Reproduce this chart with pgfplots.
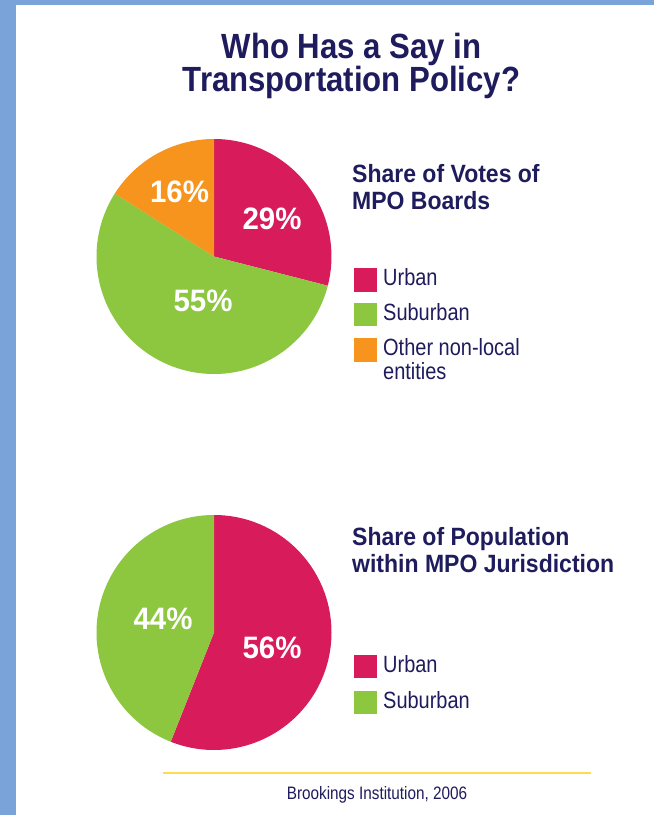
\documentclass[border=0pt]{standalone}
\usepackage{pgfplots}
\pgfplotsset{compat=1.18}
\usepackage{fontspec}
\setmainfont{Liberation Sans}
\newfontfamily\titlefont[FakeStretch=0.89]{Liberation Sans}
\newfontfamily\subfont[FakeStretch=0.92]{Liberation Sans}
\newfontfamily\legfont[FakeStretch=0.85]{Liberation Sans}
\newfontfamily\labfont[FakeStretch=0.95]{Liberation Sans}
\definecolor{urban}{RGB}{216,27,90}
\definecolor{suburb}{RGB}{141,198,63}
\definecolor{other}{RGB}{247,148,29}
\definecolor{navy}{RGB}{30,28,92}
\definecolor{frame}{RGB}{122,164,217}
\definecolor{rulecol}{RGB}{252,220,80}
% data (percent)
\def\votesUrban{29}
\def\votesSuburban{55}
\def\votesOther{16}
\def\popUrban{56}
\def\popSuburban{44}
\def\R{117.5pt}
\begin{document}
\begin{tikzpicture}[x=1pt,y=1pt]
\fill[white] (0,0) rectangle (654,815);
\fill[frame] (0,0) rectangle (16,815);
\fill[frame] (0,810) rectangle (654,815);
% title
\node[anchor=base,text=navy,font=\titlefont\bfseries\fontsize{35}{33}\selectfont,inner sep=0] at (351.5,756) {Who Has a Say in};
\node[anchor=base,text=navy,font=\titlefont\bfseries\fontsize{35}{33}\selectfont,inner sep=0] at (351.5,723) {Transportation Policy?};
% angles
\pgfmathsetmacro\aA{90}
\pgfmathsetmacro\aB{\aA-3.6*\votesUrban}
\pgfmathsetmacro\aC{\aB-3.6*\votesSuburban}
\pgfmathsetmacro\aD{\aC-3.6*\votesOther}
\pgfmathsetmacro\bA{90}
\pgfmathsetmacro\bB{\bA-3.6*\popUrban}
\pgfmathsetmacro\bC{\bB-3.6*\popSuburban}
% pie 1
\begin{axis}[at={(214pt,558.5pt)},anchor=center,width=235pt,height=235pt,scale only axis,
  xmin=-1,xmax=1,ymin=-1,ymax=1,hide axis]
\addplot[draw=none] coordinates {(0,0)};
\fill[urban] (axis cs:0,0) -- ++(\aA:\R) arc[start angle=\aA,end angle=\aB,radius=\R] -- cycle;
\fill[suburb] (axis cs:0,0) -- ++(\aB:\R) arc[start angle=\aB,end angle=\aC,radius=\R] -- cycle;
\fill[other] (axis cs:0,0) -- ++(\aC:\R) arc[start angle=\aC,end angle=\aD,radius=\R] -- cycle;
\end{axis}
% pie 2
\begin{axis}[at={(214pt,182.5pt)},anchor=center,width=235pt,height=235pt,scale only axis,
  xmin=-1,xmax=1,ymin=-1,ymax=1,hide axis]
\addplot[draw=none] coordinates {(0,0)};
\fill[urban] (axis cs:0,0) -- ++(\bA:\R) arc[start angle=\bA,end angle=\bB,radius=\R] -- cycle;
\fill[suburb] (axis cs:0,0) -- ++(\bB:\R) arc[start angle=\bB,end angle=\bC,radius=\R] -- cycle;
\end{axis}
% pie labels
\tikzset{lab/.style={text=white,font=\labfont\bfseries\fontsize{31}{31}\selectfont,inner sep=0,anchor=center}}
\node[lab] at (179.5,623.5) {\votesOther\%};
\node[lab] at (272,596.5) {\votesUrban\%};
\node[lab] at (203,514) {\votesSuburban\%};
\node[lab] at (163,196) {\popSuburban\%};
\node[lab] at (272,167) {\popUrban\%};
% subtitles
\tikzset{sub/.style={anchor=base west,text=navy,font=\subfont\bfseries\fontsize{25}{27}\selectfont,inner sep=0}}
\node[sub] at (352,632) {Share of Votes of};
\node[sub] at (352,605) {MPO Boards};
\node[sub] at (352,269) {Share of Population};
\node[sub] at (352,242) {within MPO Jurisdiction};
% legends
\tikzset{leg/.style={anchor=base west,text=navy,font=\legfont\fontsize{23.5}{24}\selectfont,inner sep=0}}
\fill[urban] (353.5,523.3) rectangle (377,546.7);
\fill[suburb] (353.5,489) rectangle (377,512.3);
\fill[other] (353.5,453.3) rectangle (377,476.7);
\node[leg] at (383,529) {Urban};
\node[leg] at (383,494.3) {Suburban};
\node[leg] at (383,459) {Other non-local};
\node[leg] at (383,435) {entities};
\fill[urban] (353.5,136.7) rectangle (377,160);
\fill[suburb] (353.5,100.7) rectangle (377,124);
\node[leg] at (383,142) {Urban};
\node[leg] at (383,106) {Suburban};
% rule and source
\draw[rulecol,line width=2.5pt] (163,42) -- (591,42);
\node[anchor=base,text=navy,font=\legfont\fontsize{18}{20}\selectfont,inner sep=0] at (377,16) {Brookings Institution, 2006};
\end{tikzpicture}
\end{document}
